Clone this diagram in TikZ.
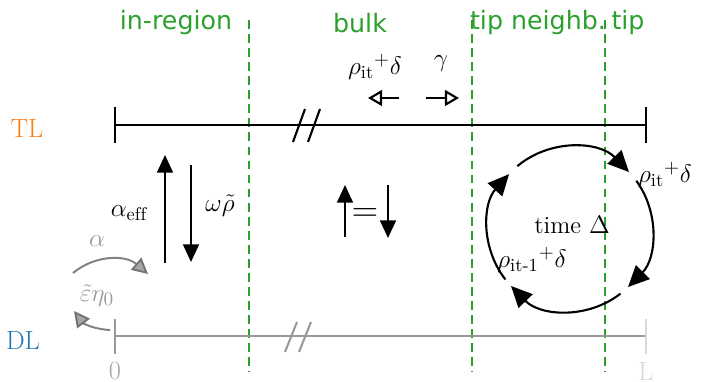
\documentclass[tikz,border=0pt]{standalone}
\usepackage{fontspec}
\usepackage{amsmath}
\newfontfamily\regionfont{DejaVu Sans}
\usetikzlibrary{arrows.meta, positioning}

\definecolor{regiongreen}{RGB}{44,160,44}
\definecolor{tlorange}{RGB}{255,127,14}
\definecolor{dlblue}{RGB}{31,119,180}

\begin{document}
\begin{tikzpicture}[
    >=Latex, % Set default arrow tip style
    lane/.style={line width=1.2pt}, % Style for the two lanes
    border/.style={regiongreen, line width=1.1pt, dash pattern=on 5pt off 3pt}, % Style for region borders
    region/.style={regiongreen, font=\regionfont\fontsize{14.4}{16}\selectfont}, % Style for region names
    rate/.style={font=\fontsize{15}{17}\selectfont, inner sep=1pt}, % Style for rate labels
    flow/.style={line width=1.2pt, -{Triangle[length=10pt, width=9pt]}}, % Style for vertical flows
    hop/.style={line width=1.2pt, -{Triangle[open, length=8pt, width=9pt]}}, % Style for hopping arrows
    loop/.style={line width=1.2pt, -{Triangle[length=12pt, width=11pt]}}, % Style for the cycle
    dlflow/.style={gray, line width=1.1pt, -{Triangle[length=9pt, width=9pt, fill=gray!70, color=gray!90!black]}} % Style for DL exchange
]
    \useasboundingbox (0,0) rectangle (14.04,7.62);

    % Region borders
    \draw[border] (4.98,7.22) -- (4.98,0.18);
    \draw[border] (9.44,7.22) -- (9.44,0.18);
    \draw[border] (12.10,7.22) -- (12.10,0.18);

    % Region names
    \node[region] (inregion) at (3.52,7.16) {in-region};
    \node[region] (bulk) at (7.20,7.16) {bulk};
    \node[region] (tipneigh) at (10.76,7.16) {tip neighb.};
    \node[region] (tip) at (12.56,7.16) {tip};

    % TL lane
    \node[tlorange, rate] (tl) at (0.54,5.06) {TL};
    \coordinate (tlstart) at (2.30,5.12);
    \coordinate (tlend) at (12.92,5.12);
    \draw[lane] (tlstart) -- (tlend);
    \draw[lane] ([yshift=-0.36cm]tlstart) -- ([yshift=0.36cm]tlstart);
    \draw[lane] ([yshift=-0.36cm]tlend) -- ([yshift=0.36cm]tlend);
    \draw[lane] (5.86,4.78) -- (6.10,5.44);
    \draw[lane] (6.16,4.78) -- (6.40,5.44);

    % DL lane
    \node[dlblue, rate] (dl) at (0.46,0.82) {DL};
    \coordinate (dlstart) at (2.30,0.90);
    \coordinate (dlend) at (12.92,0.90);
    \draw[lane, gray!80] (dlstart) -- (dlend);
    \draw[lane, gray!80] ([yshift=-0.35cm]dlstart) -- ([yshift=0.35cm]dlstart);
    \draw[lane, gray!30] ([yshift=-0.35cm]dlend) -- ([yshift=0.35cm]dlend);
    \draw[lane, gray!80] (5.70,0.58) -- (5.94,1.18);
    \draw[lane, gray!80] (5.98,0.58) -- (6.22,1.18);
    \node[gray!70, rate, anchor=north] (zero) at (2.30,0.42) {0};
    \node[gray!30, rate, anchor=north] (len) at (12.92,0.42) {L};

    % In-region exchange
    \coordinate (inlow) at (3.30,2.36);
    \coordinate (inhigh) at (3.30,4.52);
    \coordinate (outhigh) at (3.82,4.32);
    \coordinate (outlow) at (3.82,2.38);
    \draw[flow] (inlow) -- (inhigh);
    \draw[flow] (outhigh) -- (outlow);
    \node[rate] (aeff) at (2.58,3.36) {$\alpha_{\mathrm{eff}}$};
    \node[rate] (wrho) at (4.40,3.50) {$\omega\tilde{\rho}$};

    % DL exchange
    \coordinate (astart) at (1.46,2.16);
    \coordinate (aend) at (2.96,2.14);
    \coordinate (estart) at (2.20,1.02);
    \coordinate (eend) at (1.48,1.40);
    \draw[dlflow] (astart) to[bend left=40] (aend);
    \draw[dlflow] (estart) to[bend left=25] (eend);
    \node[gray!80, rate] (alpha) at (1.94,2.80) {$\alpha$};
    \node[gray!80, rate] (epseta) at (1.94,1.70) {$\tilde{\varepsilon}\eta_0$};

    % Bulk balance
    \coordinate (bulkup) at (6.90,2.88);
    \coordinate (bulkdown) at (7.76,3.92);
    \draw[flow] (bulkup) -- ++(0,1.04);
    \draw[flow] (bulkdown) -- ++(0,-1.06);
    \node[font=\fontsize{20}{20}\selectfont] (equal) at (7.30,3.32) {$=$};

    % Hopping in the bulk
    \draw[hop] (7.98,5.66) -- (7.36,5.66);
    \draw[hop] (8.52,5.66) -- (9.18,5.66);
    \node[rate] (hopleft) at (7.50,6.28) {$\rho_{\mathrm{it}}{}^{+}\delta$};
    \node[rate] (hopright) at (8.82,6.34) {$\gamma$};

    % Tip cycle
    \coordinate (cyc) at (11.40,3.04);
    \draw[loop] (cyc) ++(130:1.64) arc[start angle=130, end angle=44, radius=1.64];
    \draw[loop] (cyc) ++(36:1.64) arc[start angle=36, end angle=-45, radius=1.64];
    \draw[loop] (cyc) ++(-52:1.64) arc[start angle=-52, end angle=-136, radius=1.64];
    \draw[loop] (cyc) ++(-142:1.64) arc[start angle=218, end angle=138, radius=1.64];
    \node[font=\fontsize{14}{16}\selectfont] (time) at (11.44,3.12) {time $\Delta$};
    \node[rate] (rhoit) at (13.30,4.12) {$\rho_{\mathrm{it}}{}^{+}\delta$};
    \node[rate] (rhoitm) at (10.64,2.42) {$\rho_{\mathrm{it\text{-}1}}{}^{+}\delta$};

\end{tikzpicture}
\end{document}
